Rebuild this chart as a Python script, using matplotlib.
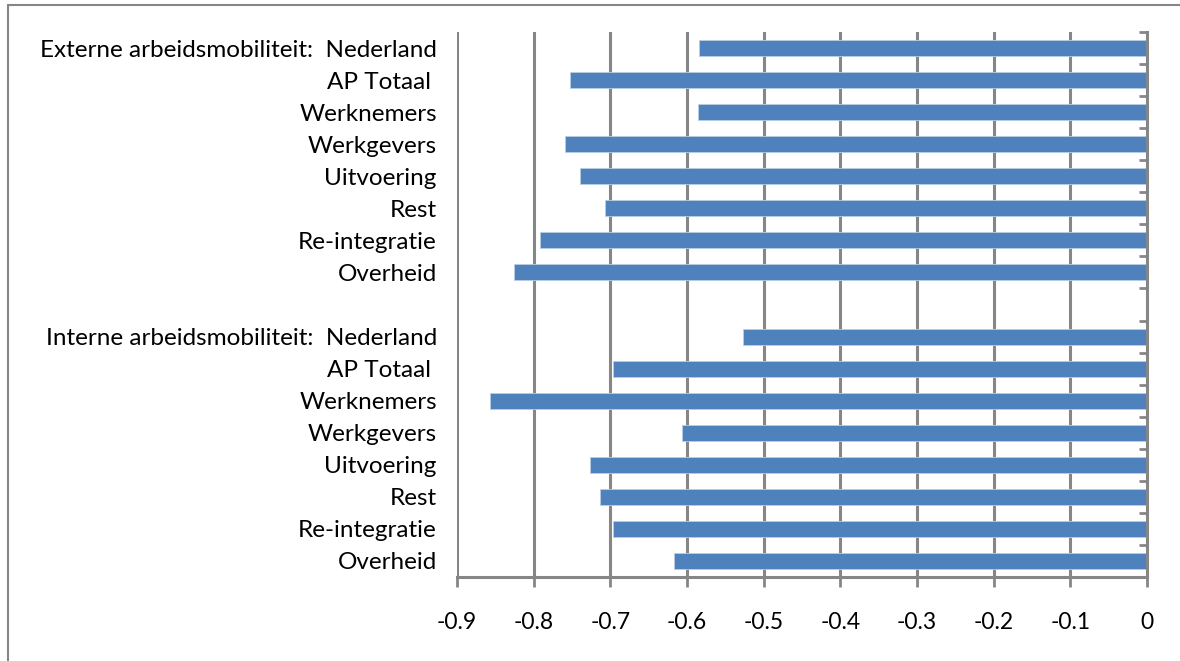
import matplotlib
matplotlib.use('Agg')
import matplotlib.pyplot as plt
from matplotlib.patches import Rectangle
import numpy as np

plt.rcParams['font.family'] = ['Lato', 'DejaVu Sans']

# categories, top to bottom
ext_labels = ['Externe arbeidsmobiliteit:  Nederland', 'AP Totaal ', 'Werknemers',
              'Werkgevers', 'Uitvoering', 'Rest', 'Re-integratie', 'Overheid']
int_labels = ['Interne arbeidsmobiliteit:  Nederland', 'AP Totaal ', 'Werknemers',
              'Werkgevers', 'Uitvoering', 'Rest', 'Re-integratie', 'Overheid']
ext_values = [-0.584, -0.752, -0.586, -0.759, -0.739, -0.707, -0.792, -0.826]
int_values = [-0.527, -0.697, -0.857, -0.607, -0.726, -0.713, -0.697, -0.617]
xticks = [-0.9, -0.8, -0.7, -0.6, -0.5, -0.4, -0.3, -0.2, -0.1, 0]
xticklabels = ['-0.9', '-0.8', '-0.7', '-0.6', '-0.5', '-0.4', '-0.3', '-0.2', '-0.1', '0']

labels = ext_labels + [''] + int_labels
values = ext_values + [np.nan] + int_values
n = len(labels)
ypos = np.arange(n)

grey = '#868686'
fig = plt.figure(figsize=(11.8, 6.61), dpi=100)
# outer chart frame
fig.patches.append(Rectangle((8/1180, -0.1), 1.2, 1 - 5/661 + 0.1, transform=fig.transFigure,
                             fill=False, edgecolor=grey, linewidth=1.5))
ax = fig.add_axes([457/1180, 1 - 577/661, 690/1180, 545/661])

ax.barh(ypos, values, height=0.5, color='#4F81BD', edgecolor='#B9CDE5', linewidth=0.6, zorder=3)
ax.set_ylim(n - 0.5, -0.5)
ax.set_xlim(-0.9, 0)

for x in xticks[:-1]:
    ax.axvline(x, color=grey, linewidth=2.2, zorder=1)

ax.set_xticks(xticks)
ax.set_xticklabels(xticklabels)
ax.set_yticks(ypos)
ax.set_yticklabels(labels)
ax.set_yticks(np.arange(n + 1) - 0.5, minor=True)

ax.tick_params(axis='x', which='major', direction='out', length=7, width=2, color=grey,
               labelsize=16.5, pad=18)
ax.tick_params(axis='y', which='major', left=False, right=False, labelleft=True,
               labelsize=17.5, pad=11)
ax.tick_params(axis='y', which='minor', left=False, right=True, direction='in',
               length=6, width=2, color=grey)

for s in ['top', 'left']:
    ax.spines[s].set_visible(False)
for s in ['bottom', 'right']:
    ax.spines[s].set_color(grey)
    ax.spines[s].set_linewidth(2.2)
    ax.spines[s].set_zorder(4)

fig.savefig('out.png', dpi=100)
